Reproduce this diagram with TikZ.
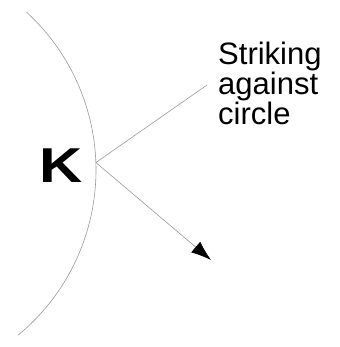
\documentclass[tikz,border=0pt]{standalone}
\usepackage{fontspec}
\setmainfont{Liberation Sans}
\usetikzlibrary{positioning,arrows.meta,calc}

\begin{document}
\begin{tikzpicture}[
  x=1pt, y=1pt,
  rim/.style={gray!80, line width=0.6pt},
  ray/.style={gray!80, line width=0.6pt},
  arr/.style={ray, -{Latex[length=20pt, width=14pt, color=black]}},
  lbl/.style={inner sep=0pt, align=left, font=\fontsize{31}{30}\selectfont},
  letter/.style={inner sep=0pt, font=\fontsize{49}{49}\bfseries\selectfont}
]
  \useasboundingbox (0,0) rectangle (339,347);

  % circle edge
  \draw[rim] (-118,177) ++(47.5:214) arc[start angle=47.5, end angle=-50.5, radius=214];
  \coordinate (hit) at ($(-118,177)+(2:214)$);

  \node[letter] (k) at (61,181) {\scalebox{1.22}[1]{K}};
  \node[lbl, anchor=north west] (txt) at (218,305) {Striking\\against\\circle};

  \coordinate (inc) at (207,262);
  \coordinate (out) at (211,87);

  \draw[ray] (hit) -- (inc);
  \draw[arr] (hit) -- (out);
\end{tikzpicture}
\end{document}
